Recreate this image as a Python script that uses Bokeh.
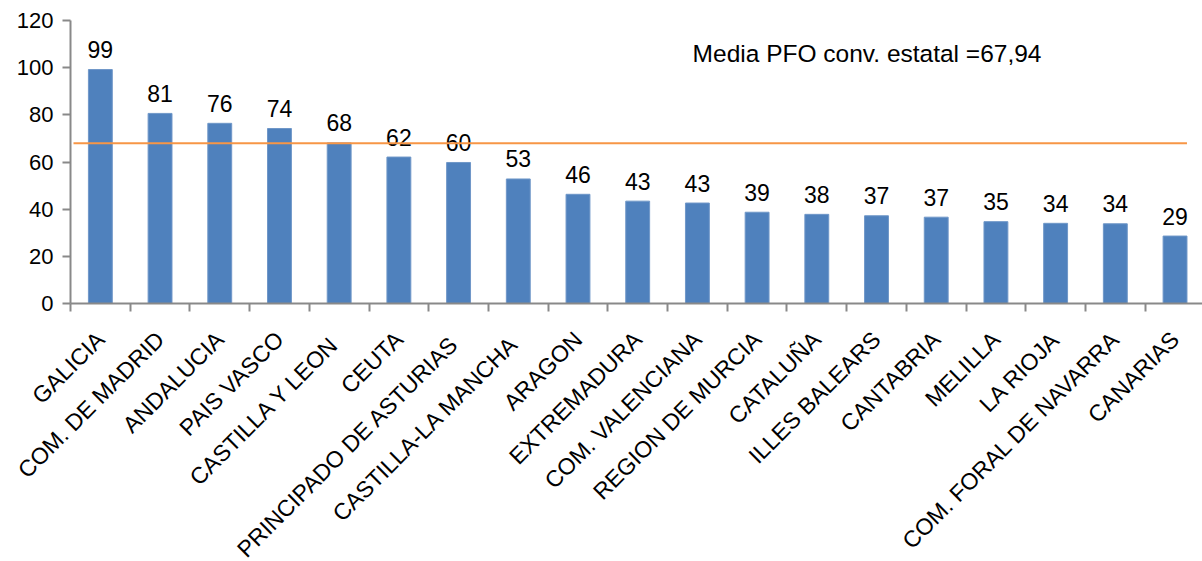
from bokeh.plotting import figure
from bokeh.models import (ColumnDataSource, Range1d, FixedTicker, Label)
from bokeh.layouts import column
from bokeh.embed import file_html
from bokeh.resources import INLINE
from bokeh.core.properties import value
import math

# ---- data ----
regions = ["GALICIA", "COM. DE MADRID", "ANDALUCIA", "PAIS VASCO", "CASTILLA  Y LEON",
           "CEUTA", "PRINCIPADO  DE ASTURIAS", "CASTILLA-LA  MANCHA", "ARAGON",
           "EXTREMADURA", "COM. VALENCIANA", "REGION DE MURCIA", "CATALUÑA",
           "ILLES BALEARS", "CANTABRIA", "MELILLA", "LA RIOJA",
           "COM. FORAL DE NAVARRA", "CANARIAS"]
pfo = [99.2, 80.6, 76.4, 74.2, 68.1, 62.1, 59.8, 52.8, 46.3, 43.4, 42.6,
       38.7, 37.8, 37.2, 36.6, 34.7, 34.0, 33.8, 28.6]
media_estatal = 67.94
media_text = "Media PFO conv. estatal =67,94"
y_ticks = [0, 20, 40, 60, 80, 100, 120]

n = len(regions)
xc = [i + 0.5 for i in range(n)]
labels = [f"{v:.0f}" for v in pfo]
src = ColumnDataSource(dict(x=xc, top=pfo, label=labels, one=[1] * n, name=regions))

FONT = "Liberation Sans"
AXIS_COLOR = "#898989"

# ---- layout geometry (pixels) ----
W = 1202
LEFT = 70            # pixels left of the first category
X_END = 18.96
X_START = -LEFT * X_END / (W - LEFT)
TOP_H = 323          # height of the chart strip
Y_TOP_PX, Y_ZERO_PX = 20, 303
Y_MAX = 120
PX_PER = (Y_ZERO_PX - Y_TOP_PX) / Y_MAX
Y_START = -(TOP_H - Y_ZERO_PX) / PX_PER
Y_END = Y_MAX + Y_TOP_PX / PX_PER
BOT_H = 561 - TOP_H

# ---- main chart (frame covers the whole strip; axes pinned at 0) ----
p = figure(width=W, height=TOP_H, output_backend="svg", toolbar_location=None,
           x_range=Range1d(X_START, X_END), y_range=Range1d(Y_START, Y_END),
           min_border_left=0, min_border_right=0, min_border_top=0,
           min_border_bottom=0)
p.outline_line_color = None
p.xgrid.visible = False
p.ygrid.visible = False

p.vbar(x="x", top="top", width=0.4, bottom=0, source=src,
       fill_color="#4F81BD", line_color="#6F97C8", line_width=1)

p.text(x="x", y="top", text="label", source=src, text_align="center",
       text_baseline="alphabetic", y_offset=-20, text_font=value(FONT),
       text_font_size="23px", text_color="black")

p.line(x=[0.05, n - 0.3], y=[media_estatal, media_estatal], line_color="#F79646",
       line_width=2)

p.add_layout(Label(x=10.42, y=106.2, text=media_text, text_font=FONT,
                   text_font_size="24.5px", text_color="black",
                   text_baseline="alphabetic"))

xa = p.xaxis[0]
xa.fixed_location = 0
xa.ticker = FixedTicker(ticks=[], minor_ticks=[float(i) for i in range(n + 1)])
xa.bounds = (0, X_END)
xa.major_tick_out = 0
xa.major_tick_in = 0
xa.minor_tick_out = 8
xa.minor_tick_in = 0
xa.minor_tick_line_color = AXIS_COLOR
xa.minor_tick_line_width = 2
xa.axis_line_color = AXIS_COLOR
xa.axis_line_width = 2

ya = p.yaxis[0]
ya.fixed_location = 0
ya.bounds = (0, Y_MAX)
ya.ticker = FixedTicker(ticks=y_ticks)
ya.major_tick_out = 8
ya.major_tick_in = 0
ya.minor_tick_out = 0
ya.minor_tick_in = 0
ya.major_tick_line_color = AXIS_COLOR
ya.major_tick_line_width = 2
ya.axis_line_color = AXIS_COLOR
ya.axis_line_width = 2
ya.major_label_text_font = FONT
ya.major_label_text_font_size = "22px"
ya.major_label_text_color = "black"
ya.major_label_standoff = 9

# ---- category labels strip, same category scale ----
q = figure(width=W, height=BOT_H, output_backend="svg", toolbar_location=None,
           x_range=Range1d(X_START, X_END), y_range=Range1d(0, 1),
           x_axis_type=None, y_axis_type=None,
           min_border_left=0, min_border_right=0, min_border_top=0,
           min_border_bottom=0)
q.outline_line_color = None
q.xgrid.visible = False
q.ygrid.visible = False
q.text(x="x", y="one", text="name", source=src, angle=math.pi / 4,
       text_align="right", text_baseline="alphabetic", x_offset=0, y_offset=12,
       text_font=value(FONT), text_font_size="23px", text_color="black")

layout = column(p, q, spacing=0)
open("out.html", "w").write(file_html(layout, INLINE))
